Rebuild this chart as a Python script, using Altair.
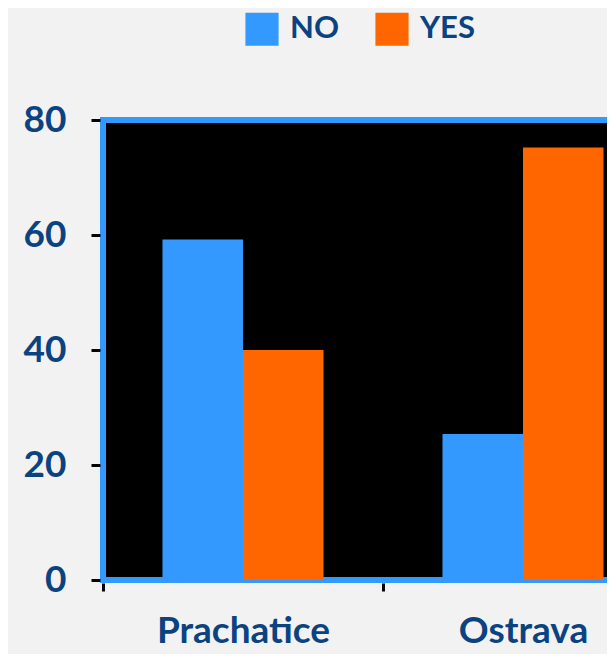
import altair as alt
import pandas as pd

cities = ["Prachatice", "Prachatice", "Ostrava", "Ostrava"]
answers = ["NO", "YES", "NO", "YES"]
values = [59.2, 40.0, 25.4, 75.2]

city_order = ["Prachatice", "Ostrava"]
answer_order = ["NO", "YES"]
colors = ["#3399ff", "#ff6600"]
y_ticks = [0, 20, 40, 60, 80]

df = pd.DataFrame({"city": cities, "answer": answers, "value": values})

TEXT = "#0b4381"
FONT = "Lato"

chart = (
    alt.Chart(df)
    .mark_bar()
    .encode(
        x=alt.X(
            "city:N",
            sort=city_order,
            title=None,
            scale=alt.Scale(paddingInner=0, paddingOuter=0),
            axis=alt.Axis(
                labelAngle=0,
                labelFont=FONT,
                labelFontSize=37,
                labelFontWeight="bold",
                labelColor=TEXT,
                labelPadding=22,
                labelLimit=0,
                tickBand="extent",
                tickColor="black",
                tickWidth=3,
                tickSize=8,
                offset=3,
                domain=False,
                grid=False,
            ),
        ),
        xOffset=alt.XOffset(
            "answer:N",
            sort=answer_order,
            scale=alt.Scale(paddingInner=0, paddingOuter=0.739),
        ),
        y=alt.Y(
            "value:Q",
            title=None,
            scale=alt.Scale(domain=[0, 80], nice=False, zero=True),
            axis=alt.Axis(
                values=y_ticks,
                labelFont=FONT,
                labelFontSize=37,
                labelFontWeight="bold",
                labelColor=TEXT,
                labelPadding=25,
                tickColor="black",
                tickWidth=3,
                tickSize=9,
                offset=3,
                domain=False,
                grid=False,
            ),
        ),
        color=alt.Color(
            "answer:N",
            sort=answer_order,
            scale=alt.Scale(domain=answer_order, range=colors),
            legend=alt.Legend(
                title=None,
                orient="none",
                legendX=142,
                legendY=-108,
                direction="horizontal",
                symbolType="square",
                symbolSize=1100,
                symbolStrokeWidth=0,
                labelFont=FONT,
                labelFontSize=31,
                labelFontWeight="bold",
                labelColor=TEXT,
                labelOffset=11,
                columnPadding=36,
                labelExpr="datum.label == 'YES' ? '\u2002YES' : datum.label",
            ),
        ),
    )
    .properties(
        width=560,
        height=460,
        autosize=alt.AutoSizeParams(type="none"),
        padding={"left": 95, "top": 112, "right": -56, "bottom": 74},
    )
    .configure(background="#f2f2f2")
    .configure_view(fill="black", stroke="#3399ff", strokeWidth=6)
)

chart.save("out.html", embed_options={"renderer": "svg", "actions": False})
